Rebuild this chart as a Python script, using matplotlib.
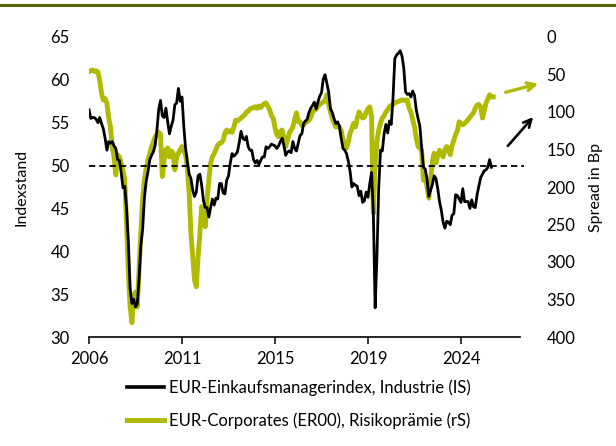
import numpy as np
import matplotlib
matplotlib.use("Agg")
import matplotlib.pyplot as plt
from matplotlib.lines import Line2D

plt.rcParams['font.family'] = ['Lato', 'DejaVu Sans']

# Monthly data, starting Dec 2006
pmi = [56.5,
       55.5, 55.6, 55.6, 55.4, 55.0, 55.6, 54.9, 54.3, 53.2, 51.8, 52.8, 52.6,
       52.8, 52.3, 52.0, 50.7, 50.6, 49.2, 47.4, 47.6, 45.0, 41.1, 35.6, 33.9,
       34.4, 33.5, 33.9, 36.8, 40.7, 42.6, 46.3, 48.2, 49.3, 50.7, 51.2, 51.6,
       52.4, 54.2, 56.6, 57.6, 55.8, 55.6, 56.7, 55.1, 53.7, 54.6, 55.3, 57.1,
       57.3, 59.0, 57.5, 58.0, 54.6, 52.0, 50.4, 49.0, 48.5, 47.1, 46.4, 46.9,
       48.8, 49.0, 47.7, 45.9, 45.1, 45.1, 44.0, 45.1, 46.1, 45.4, 46.2, 46.1,
       47.9, 47.9, 46.8, 46.7, 48.3, 48.8, 50.3, 51.4, 51.1, 51.3, 51.6, 52.7,
       54.0, 53.2, 53.0, 53.4, 52.2, 51.8, 51.8, 50.7, 50.3, 50.6, 50.1, 50.6,
       51.0, 51.0, 52.2, 52.0, 52.2, 52.5, 52.4, 52.3, 52.0, 52.3, 52.8, 53.2,
       52.3, 51.2, 51.6, 51.7, 51.5, 52.8, 52.0, 51.7, 52.6, 53.5, 53.7, 54.9,
       55.2, 55.4, 56.2, 56.7, 57.0, 57.4, 56.6, 57.4, 58.1, 58.5, 60.1, 60.6,
       59.6, 58.6, 56.6, 56.2, 55.5, 54.9, 55.1, 54.6, 53.2, 52.0, 51.8, 51.4,
       50.5, 49.3, 47.5, 47.9, 47.7, 47.6, 46.5, 47.0, 45.7, 45.9, 46.9, 46.3,
       47.9, 49.2, 44.5, 33.4, 39.4, 47.4, 51.8, 51.7, 53.7, 54.8, 53.8, 55.2,
       54.8, 57.9, 62.5, 62.9, 63.1, 63.4, 62.8, 61.4, 58.6, 58.3, 58.4, 58.0,
       58.7, 58.2, 56.5, 55.5, 54.6, 52.1, 49.8, 49.6, 48.4, 46.4, 47.1, 47.8,
       48.8, 48.5, 47.3, 45.8, 44.8, 43.4, 42.7, 43.5, 43.4, 43.1, 44.2, 44.4,
       46.6, 46.5, 46.1, 45.7, 47.3, 45.8, 45.8, 45.8, 45.0, 46.0, 45.2, 45.1,
       46.6, 47.6, 48.6, 49.0, 49.4, 49.5, 49.8, 50.7, 49.8]

spread = [46,
          45, 44, 46, 45, 47, 58, 75, 84, 82, 88, 108, 120,
          146, 160, 184, 157, 160, 168, 178, 190, 250, 315, 360, 381,
          345, 340, 360, 310, 260, 215, 190, 175, 164, 155, 146, 140,
          133, 130, 127, 130, 186, 165, 150, 148, 160, 152, 155, 177,
          160, 155, 150, 146, 152, 157, 175, 208, 262, 293, 324, 333,
          293, 262, 226, 240, 253, 217, 191, 168, 160, 155, 150, 144,
          142, 141, 138, 128, 124, 127, 125, 127, 120, 111, 112, 110,
          108, 106, 104, 100, 99, 96, 95, 94, 93, 95, 92, 94,
          91, 89, 88, 92, 97, 105, 108, 121, 130, 133, 126, 124,
          135, 146, 137, 128, 124, 120, 110, 101, 113, 113, 118, 117,
          114, 113, 111, 107, 100, 98, 96, 93, 90, 88, 87, 84,
          77, 90, 100, 108, 115, 120, 118, 120, 125, 137, 142, 148,
          140, 128, 122, 115, 120, 108, 100, 104, 108, 107, 100, 96,
          93, 107, 235, 168, 140, 124, 115, 108, 105, 100, 97, 93,
          91, 90, 88, 87, 86, 85, 84, 84, 85, 84, 95, 100,
          110, 120, 135, 146, 148, 151, 191, 185, 200, 215, 191, 165,
          155, 168, 158, 151, 155, 160, 150, 146, 150, 157, 145, 138,
          130, 125, 113, 115, 117, 115, 113, 110, 107, 104, 101, 95,
          91, 90, 93, 108, 98, 88, 83, 77, 80, 80]

tick_pos = [0, 52, 104, 156, 208]
tick_labels = ["2006", "2011", "2015", "2019", "2024"]
left_ticks = [30, 35, 40, 45, 50, 55, 60, 65]
right_ticks = [0, 50, 100, 150, 200, 250, 300, 350, 400]

black = "#000000"
green = "#B0BA00"

W, H = 616, 446
fig = plt.figure(figsize=(W / 100, H / 100), dpi=100)

# top rule
fig.add_artist(Line2D([0, 1], [1 - 5 / H, 1 - 5 / H], color="#506400", lw=2.2))

ax = fig.add_axes([89 / W, (H - 337) / H, 431 / W, 300 / H])
ax2 = ax.twinx()

x1 = np.arange(len(pmi))
x2 = np.arange(len(spread))

ax2.plot(x2, spread, color=green, lw=3.5, solid_joinstyle="round", zorder=2)
ax.plot(x1, pmi, color=black, lw=2.0, zorder=3)
ax.axhline(50, color=black, lw=1.3, ls=(0, (3.5, 2.2)), xmin=0, xmax=1.01, clip_on=False, zorder=4)

ax.set_zorder(ax2.get_zorder() + 1)
ax.patch.set_visible(False)

ax.set_xlim(0, 241)
ax.set_ylim(30, 65)
ax2.set_ylim(400, 0)

ax.set_yticks(left_ticks)
ax2.set_yticks(right_ticks)
ax.set_xticks(tick_pos)
ax.set_xticklabels(tick_labels)

for a in (ax, ax2):
    for s in ("top", "left", "right"):
        a.spines[s].set_visible(False)
ax2.spines["bottom"].set_visible(False)
ax.spines["bottom"].set_linewidth(1.2)

ax.tick_params(axis="x", direction="out", length=5, width=1.1, labelsize=12, pad=5)
ax.tick_params(axis="y", length=0, labelsize=12, pad=14)
ax2.tick_params(axis="y", length=0, labelsize=12, pad=19)

ax.set_ylabel("Indexstand", fontsize=11.5, labelpad=16)
ax2.set_ylabel("Spread in Bp", fontsize=11.5, labelpad=10)

# arrows
ax.annotate("", xy=(541, H - 83), xytext=(503, H - 93), xycoords="figure pixels",
            textcoords="figure pixels",
            arrowprops=dict(arrowstyle="->", color=green, lw=2.4, mutation_scale=14))
ax.annotate("", xy=(535, H - 115), xytext=(506, H - 148), xycoords="figure pixels",
            textcoords="figure pixels",
            arrowprops=dict(arrowstyle="->", color=black, lw=1.9, mutation_scale=14))

handles = [Line2D([], [], color=black, lw=2.6), Line2D([], [], color=green, lw=3.6)]
labels = ["EUR-Einkaufsmanagerindex, Industrie (IS)", "EUR-Corporates (ER00), Risikoprämie (rS)"]
fig.legend(handles, labels, loc="upper left", bbox_to_anchor=(127 / W, 1 - 379 / H),
           frameon=False, fontsize=12, handlelength=2.2, handletextpad=0.3,
           labelspacing=1.0, borderpad=0, borderaxespad=0)

fig.savefig("out.png", dpi=100)
